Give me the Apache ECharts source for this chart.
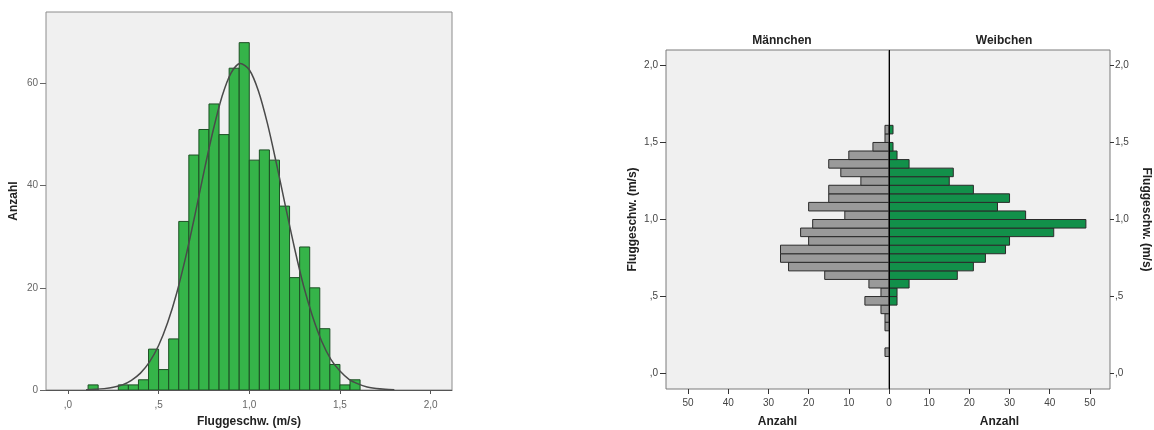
<!DOCTYPE html>
<html><head><meta charset="utf-8">
<script src="https://cdn.jsdelivr.net/npm/echarts@6/dist/echarts.min.js"></script>
<style>html,body{margin:0;padding:0;background:#fff}#c{width:1154px;height:430px}</style>
</head><body><div id="c"></div>
<script>
// ---- data ----
const BIN_WIDTH = 1 / 18;           // bin width (m/s)
const firstBin = 2;                 // index of the first bin (lower edge = index * BIN_WIDTH)
const histCounts   = [1,0,0,1,1,2,8,4,10,33,46,51,56,50,63,68,45,47,45,36,22,28,20,12,5,1,2];
const maleCounts   = [1,0,0,1,1,2,6,2,5,16,25,27,27,20,22,19,11,20,15,15,7,12,15,10,4,1,1];
const femaleCounts = [0,0,0,0,0,0,2,2,5,17,21,24,29,30,41,49,34,27,30,21,15,16,5,2,1,0,1];
const curveX = [0.10,0.15,0.20,0.25,0.30,0.35,0.40,0.45,0.50,0.55,0.60,0.65,0.70,0.75,0.80,0.85,0.90,0.95,1.00,1.05,1.10,1.15,1.20,1.25,1.30,1.35,1.40,1.45,1.50,1.55,1.60,1.65,1.70,1.75,1.80];
const curveY = [0.06,0.13,0.27,0.54,1.0,1.9,3.3,5.5,8.7,13.2,19.0,26.1,34.2,42.7,50.7,57.5,62.1,63.9,62.7,58.6,52.2,44.3,35.9,27.7,20.3,14.3,9.5,6.0,3.7,2.1,1.2,0.6,0.3,0.15,0.07];
const speedTicks  = [0, 0.5, 1, 1.5, 2];
const speedLabels = [',0', ',5', '1,0', '1,5', '2,0'];
const histYTicks  = [0, 20, 40, 60];
const countTicksL = [0, 10, 20, 30, 40, 50];
const countTicksR = [10, 20, 30, 40, 50];
const xTitle = 'Fluggeschw. (m/s)';
const yTitle = 'Anzahl';
const groups = ['Männchen', 'Weibchen'];

// ---- helpers ----
const FONT = "'Liberation Sans', Arial, sans-serif";
function speedFmt(v){ const i = speedTicks.findIndex(t => Math.abs(t - v) < 1e-6); return i >= 0 ? speedLabels[i] : ''; }
const histData = histCounts.map((n, i) => [(firstBin + i) * BIN_WIDTH, n]);
const maleData = maleCounts.map((n, i) => [n, (firstBin + i) * BIN_WIDTH]);
const femaleData = femaleCounts.map((n, i) => [n, (firstBin + i) * BIN_WIDTH]);
const curveData = curveX.map((x, i) => [x, curveY[i]]);

function histItem(params, api){
  const lo = api.value(0), n = api.value(1);
  if (!n) return null;
  const a = api.coord([lo, n]), b = api.coord([lo + BIN_WIDTH, 0]);
  return {type:'rect', shape:{x:a[0], y:a[1], width:b[0]-a[0], height:b[1]-a[1]},
          style:{fill:'#35b449', stroke:'#1d4f24', lineWidth:1}};
}
function pyrItem(fill){
  return function(params, api){
    const n = api.value(0), lo = api.value(1);
    if (!n) return null;
    const a = api.coord([0, lo + BIN_WIDTH]), b = api.coord([n, lo]);
    return {type:'rect', shape:{x:Math.min(a[0],b[0]), y:a[1], width:Math.abs(b[0]-a[0]), height:b[1]-a[1]},
            style:{fill:fill, stroke:'#2a2a2a', lineWidth:1}};
  };
}

const tickLbl = {fontFamily: FONT, fontSize: 10, color: '#444'};
const nameStyle = {fontFamily: FONT, fontSize: 12, fontWeight: 'bold', color: '#222'};
const noLine = {show: false, onZero: false};

const chart = echarts.init(document.getElementById('c'));
chart.setOption({
  animation: false,
  title: [
    {text: groups[0], left: 777, top: 30, textAlign: 'center', textStyle: Object.assign({}, nameStyle)},
    {text: groups[1], left: 999, top: 30, textAlign: 'center', textStyle: Object.assign({}, nameStyle)}
  ],
  grid: [
    {left: 46, top: 12, width: 406, height: 378, show: true, backgroundColor: '#f0f0f0', borderColor: '#8c8c8c', borderWidth: 1, outerBoundsMode: 'none'},
    {left: 666, top: 50, width: 223, height: 339, show: true, backgroundColor: '#f0f0f0', borderColor: '#7a7a7a', borderWidth: 1, outerBoundsMode: 'none'},
    {left: 889, top: 50, width: 221, height: 339, show: true, backgroundColor: '#f0f0f0', borderColor: '#7a7a7a', borderWidth: 1, outerBoundsMode: 'none'}
  ],
  xAxis: [
    {gridIndex: 0, type: 'value', min: -0.121, max: 2.118, splitLine: {show: false},
     axisLine: {show: true, onZero: false, lineStyle: {color: '#555'}},
     axisTick: {show: true, length: 4, customValues: speedTicks, lineStyle: {color: '#555'}},
     axisLabel: {customValues: speedTicks, formatter: speedFmt, margin: 10, ...tickLbl, color: '#666'},
     name: xTitle, nameLocation: 'middle', nameGap: 26, nameTextStyle: nameStyle},
    {gridIndex: 1, type: 'value', min: 0, max: 55.5, inverse: true, splitLine: {show: false},
     axisLine: noLine,
     axisTick: {show: true, length: 5, customValues: countTicksL, lineStyle: {color: '#333'}},
     axisLabel: {customValues: countTicksL, margin: 9, ...tickLbl},
     name: yTitle, nameLocation: 'middle', nameGap: 27, nameTextStyle: nameStyle},
    {gridIndex: 2, type: 'value', min: 0, max: 55, splitLine: {show: false},
     axisLine: noLine,
     axisTick: {show: true, length: 5, customValues: countTicksR, lineStyle: {color: '#333'}},
     axisLabel: {customValues: countTicksR, margin: 9, ...tickLbl},
     name: yTitle, nameLocation: 'middle', nameGap: 27, nameTextStyle: nameStyle}
  ],
  yAxis: [
    {gridIndex: 0, type: 'value', min: 0, max: 74, splitLine: {show: false},
     axisLine: noLine,
     axisTick: {show: true, length: 6, customValues: histYTicks, lineStyle: {color: '#666'}},
     axisLabel: {customValues: histYTicks, margin: 8, ...tickLbl, color: '#666'},
     name: yTitle, nameLocation: 'middle', nameGap: 26, nameTextStyle: nameStyle},
    {gridIndex: 1, type: 'value', min: -0.1, max: 2.1, position: 'left', splitLine: {show: false},
     axisLine: noLine,
     axisTick: {show: true, length: 6, customValues: speedTicks, lineStyle: {color: '#333'}},
     axisLabel: {customValues: speedTicks, formatter: speedFmt, margin: 8, ...tickLbl},
     name: xTitle, nameLocation: 'middle', nameGap: 27, nameTextStyle: nameStyle},
    {gridIndex: 2, type: 'value', min: -0.1, max: 2.1, position: 'right', splitLine: {show: false},
     axisLine: noLine,
     axisTick: {show: true, length: 4, customValues: speedTicks, lineStyle: {color: '#333'}},
     axisLabel: {customValues: speedTicks, formatter: speedFmt, margin: 5, ...tickLbl},
     name: xTitle, nameLocation: 'middle', nameGap: 30, nameRotate: -90, nameTextStyle: nameStyle}
  ],
  series: [
    {type: 'custom', xAxisIndex: 0, yAxisIndex: 0, renderItem: histItem, data: histData, silent: true, clip: true},
    {type: 'line', xAxisIndex: 0, yAxisIndex: 0, data: curveData, smooth: 0.3, showSymbol: false, silent: true,
     lineStyle: {color: '#4a4a4a', width: 1.5}, z: 5},
    {type: 'custom', xAxisIndex: 1, yAxisIndex: 1, renderItem: pyrItem('#9a9a9a'), data: maleData, silent: true},
    {type: 'custom', xAxisIndex: 2, yAxisIndex: 2, renderItem: pyrItem('#12904a'), data: femaleData, silent: true,
     markLine: {silent: true, symbol: 'none', label: {show: false}, lineStyle: {color: '#000', width: 1, type: 'solid'},
                data: [{xAxis: 0}]}}
  ]
});
</script></body></html>
